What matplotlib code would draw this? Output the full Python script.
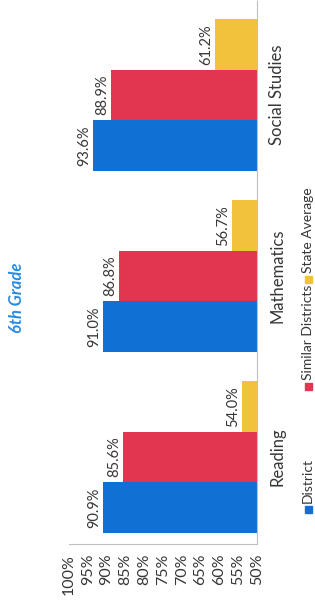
import numpy as np
import matplotlib
matplotlib.use('Agg')
import matplotlib.pyplot as plt
from matplotlib.patches import Rectangle

plt.rcParams['font.family'] = ['Lato', 'DejaVu Sans']

# data
subjects = ['Reading', 'Mathematics', 'Social Studies']
series = ['District', 'Similar Districts', 'State Average']
district = [90.9, 91.0, 93.6]
similar = [85.6, 86.8, 88.9]
state = [54.0, 56.7, 61.2]
ticks = [50, 55, 60, 65, 70, 75, 80, 85, 90, 95, 100]

colors = ['#1170d3', '#e2354f', '#f3c23c']
txt = '#363636'

fig = plt.figure(figsize=(3.15, 6.05), dpi=100)
W, H = 315., 605.
# axes box in pixels: x 69..257, y 1..544 (from top)
ax = fig.add_axes([69/W, 1-544/H, 188/W, 543/H])

pos = np.arange(len(subjects))
w = 0.28
for k, (vals, c) in enumerate(zip([district, similar, state], colors)):
    y = pos + (k-1)*w
    ax.barh(y, vals, height=w, color=c, zorder=2)
    for yy, v in zip(y, vals):
        ax.text(v+0.5, yy, '%.1f%%' % v, rotation=90, ha='right', va='center',
                fontsize=10.5, color=txt)

ax.set_xlim(100, 50)
ax.set_ylim(-0.48, 2.52)
ax.set_xticks(ticks)
ax.set_xticklabels(['%d%%' % t for t in ticks], rotation=90, fontsize=11.5, color=txt)
ax.tick_params(axis='x', length=0, pad=7)
ax.yaxis.tick_right()
ax.set_yticks(pos)
ax.set_yticklabels(subjects, rotation=90, va='center', fontsize=12, color=txt)
ax.tick_params(axis='y', length=0, pad=9)
for s in ['top', 'left']:
    ax.spines[s].set_visible(False)
for s in ['bottom', 'right']:
    ax.spines[s].set_color('#bfbfbf')

fig.text(17/W, 1-298/H, '6th Grade', rotation=90, ha='center', va='center',
         color='#2a8be0', fontsize=12, fontweight='bold', style='italic')

# legend, drawn rotated by hand
leg_start = [503, 380, 273]
for name, c, ys in zip(series, colors, leg_start):
    fig.text(308/W, 1-ys/H, name, rotation=90, ha='center', va='bottom',
             fontsize=10, color=txt)
    fig.add_artist(Rectangle((305/W, 1-(ys+10)/H), 7/W, 7/H,
                             transform=fig.transFigure, color=c))

fig.savefig('out.png', dpi=100)
